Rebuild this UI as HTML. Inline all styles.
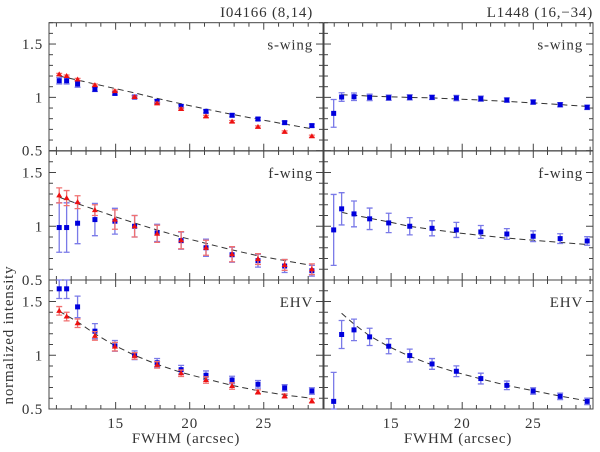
<!DOCTYPE html>
<html><head><meta charset="utf-8"><style>
html,body{margin:0;padding:0;background:#fff;}
svg text{font-family:"Liberation Serif",serif;fill:#333;letter-spacing:0.8px;}
</style></head><body>
<svg id="chart" width="600" height="447" viewBox="0 0 600 447" xmlns="http://www.w3.org/2000/svg">
<text x="313" y="17" font-size="15" text-anchor="end">I04166 (8,14)</text>
<text x="593" y="17" font-size="15" text-anchor="end">L1448 (16,−34)</text>
<text x="0" y="0" font-size="15" text-anchor="middle" transform="translate(13,335) rotate(-90)">normalized intensity</text>
<text x="186" y="443" font-size="15" text-anchor="middle">FWHM (arcsec)</text>
<text x="458" y="443" font-size="15" text-anchor="middle">FWHM (arcsec)</text>
<g id="plots"></g>
</svg>
<script>
// x positions (arcsec)
const xLeft = [11.19,11.69,12.43,13.60,14.95,16.28,17.80,19.42,21.10,22.86,24.61,26.41,28.25];
const xRight = [10.96,11.52,12.39,13.49,14.83,16.31,17.88,19.59,21.31,23.14,24.99,26.89,28.79];
// left s-wing
const sLBlue = [1.156,1.156,1.125,1.075,1.037,1.003,0.963,0.916,0.869,0.832,0.797,0.763,0.735];
const sLBlueErr = [0.03,0.03,0.03,0.02,0.015,0.015,0.015,0.015,0.015,0.015,0.015,0.015,0.015];
const sLRed = [1.215,1.2,1.168,1.115,1.059,1.003,0.944,0.891,0.822,0.773,0.723,0.676,0.636];
const sLRedErr = [0.01,0.01,0.01,0.01,0.01,0.01,0.01,0.01,0.01,0.01,0.01,0.01,0.01];
const sLFit = [1.2,1.185,1.162,1.125,1.083,1.042,0.99,0.94,0.89,0.84,0.795,0.75,0.705];
// left f-wing
const fLBlue = [0.988,0.988,1.028,1.062,1.047,1.0,0.938,0.866,0.80,0.735,0.68,0.63,0.586];
const fLBlueErr = [0.23,0.23,0.19,0.15,0.12,0.1,0.08,0.08,0.08,0.07,0.06,0.06,0.05];
const fLRed = [1.287,1.262,1.224,1.15,1.062,1.0,0.93,0.87,0.80,0.74,0.695,0.64,0.6];
const fLRedErr = [0.07,0.07,0.06,0.05,0.09,0.1,0.08,0.08,0.07,0.07,0.05,0.05,0.05];
const fLFit = [1.27,1.245,1.21,1.155,1.09,1.03,0.965,0.9,0.84,0.78,0.725,0.68,0.635];
// left EHV
const eLBlue = [1.618,1.618,1.45,1.224,1.087,1.0,0.93,0.866,0.814,0.77,0.73,0.696,0.668];
const eLBlueErr = [0.09,0.09,0.1,0.07,0.05,0.04,0.04,0.04,0.04,0.035,0.035,0.03,0.03];
const eLRed = [1.413,1.36,1.298,1.18,1.08,0.994,0.91,0.832,0.77,0.714,0.658,0.621,0.575];
const eLRedErr = [0.04,0.04,0.04,0.04,0.04,0.03,0.03,0.03,0.03,0.03,0.02,0.02,0.02];
const eLFit = [1.41,1.37,1.31,1.2,1.09,1.0,0.915,0.84,0.78,0.72,0.67,0.63,0.6];
// right panels
const sR = [0.85,1.003,1.006,1.0,0.997,1.0,1.0,0.994,0.988,0.975,0.956,0.931,0.907];
const sRErr = [0.13,0.04,0.035,0.03,0.025,0.025,0.02,0.025,0.025,0.02,0.02,0.02,0.02];
const sRFit = [null,1.025,1.02,1.012,1.005,1.0,0.995,0.985,0.975,0.962,0.948,0.932,0.915];
const fR = [0.966,1.162,1.115,1.069,1.031,1.0,0.981,0.966,0.947,0.928,0.907,0.885,0.863];
const fRErr = [0.33,0.15,0.12,0.1,0.09,0.08,0.07,0.07,0.06,0.05,0.05,0.045,0.04];
const fRFit = [null,1.13,1.105,1.075,1.04,1.0,0.97,0.94,0.915,0.89,0.87,0.85,0.83];
const eR = [0.571,1.193,1.236,1.171,1.084,0.997,0.919,0.851,0.783,0.72,0.668,0.618,0.571];
const eRErr = [0.27,0.13,0.1,0.08,0.07,0.06,0.05,0.05,0.05,0.04,0.03,0.03,0.03];
const eRFit = [null,1.39,1.29,1.18,1.08,0.99,0.91,0.84,0.78,0.72,0.67,0.62,0.575];
const yTicks = ["0.5","1","1.5"];
const xTicks = ["15","20","25"];
const panelLabels = ["s-wing","f-wing","EHV"];

const NS="http://www.w3.org/2000/svg";
const root=document.getElementById('plots');
function mk(tag,attrs,parent){const e=document.createElementNS(NS,tag);for(const k in attrs)e.setAttribute(k,attrs[k]);(parent||root).appendChild(e);return e;}

const rows=[[22.7,150.7],[151,280],[280,409]];
const cols=[{x0:49,x1:323,d0:10.5,d1:29},{x0:324,x1:593,d0:10.28,d1:29.2}];

function drawPanel(ci,ri,xs,blue,blueErr,red,redErr,fit){
  const c=cols[ci],r=rows[ri];
  const g=mk('g',{});
  
  
  const sx=v=>c.x0+(v-c.d0)/(c.d1-c.d0)*(c.x1-c.x0);
  const sy=v=>r[1]-(v-0.5)/1.2*(r[1]-r[0]);
  const fr=mk('rect',{x:c.x0,y:r[0],width:c.x1-c.x0,height:r[1]-r[0],fill:'none',stroke:'#444','stroke-width':1},g);
  
  
  for(let v=11;v<=29;v++){if(v<c.d0||v>c.d1)continue;const x=sx(v),L=(v%5==0)?7:4;
    mk('line',{x1:x,x2:x,y1:r[1],y2:r[1]-L,stroke:'#444','stroke-width':1},g);
    mk('line',{x1:x,x2:x,y1:r[0],y2:r[0]+L,stroke:'#444','stroke-width':1},g);}
  for(let k=5;k<=17;k++){const v=k/10,y=sy(v),L=(k%5==0)?7:4;
    mk('line',{x1:c.x0,x2:c.x0+L,y1:y,y2:y,stroke:'#444','stroke-width':1},g);
    mk('line',{x1:c.x1,x2:c.x1-L,y1:y,y2:y,stroke:'#444','stroke-width':1},g);}
  if(ci==0){yTicks.forEach(t=>{const e=mk('text',{x:43,y:sy(parseFloat(t))+5,'font-size':15,'text-anchor':'end'},g);e.textContent=t;
    
    });}
  if(ri==2){xTicks.forEach(t=>{const e=mk('text',{x:sx(parseFloat(t)),y:428,'font-size':15,'text-anchor':'middle'},g);e.textContent=t;
    
    });}
  const lb=mk('text',{x:c.x1-10,y:r[0]+27,'font-size':15,'text-anchor':'end'},g);lb.textContent=panelLabels[ri];
  
  
  let d='';fit.forEach((v,i)=>{if(v==null)return;d+=(d?'L':'M')+sx(xs[i]).toFixed(1)+','+sy(v).toFixed(1);});
  const fl=mk('path',{d:d,fill:'none',stroke:'#333','stroke-width':1,'stroke-dasharray':'6,4'},g);
  
  
  function series(vals,errs,col,ecol,shape,name){
    vals.forEach((v,i)=>{const x=sx(xs[i]),y=sy(v);
      const yt=Math.max(sy(v+errs[i]),r[0]),yb=Math.min(sy(v-errs[i]),r[1]);
      const eb=mk('path',{d:`M${x},${yt}L${x},${yb}M${x-3},${yt}L${x+3},${yt}M${x-3},${yb}L${x+3},${yb}`,stroke:ecol,'stroke-width':1.3,fill:'none'},g);
      
      
      let m;
      if(shape=='sq'){m=mk('rect',{x:x-2.5,y:y-2.5,width:5,height:5,fill:col},g);}
      else{m=mk('path',{d:`M${x},${y-3}L${x+3},${y+2}L${x-3},${y+2}Z`,fill:col},g);}
      
      });
  }
  series(blue,blueErr,'#0000dd','#7a7ae8','sq','blue');
  if(red)series(red,redErr,'#ee1111','#f07070','tri','red');
}
drawPanel(0,0,xLeft,sLBlue,sLBlueErr,sLRed,sLRedErr,sLFit);
drawPanel(0,1,xLeft,fLBlue,fLBlueErr,fLRed,fLRedErr,fLFit);
drawPanel(0,2,xLeft,eLBlue,eLBlueErr,eLRed,eLRedErr,eLFit);
drawPanel(1,0,xRight,sR,sRErr,null,null,sRFit);
drawPanel(1,1,xRight,fR,fRErr,null,null,fRFit);
drawPanel(1,2,xRight,eR,eRErr,null,null,eRFit);
</script>
</body></html>
